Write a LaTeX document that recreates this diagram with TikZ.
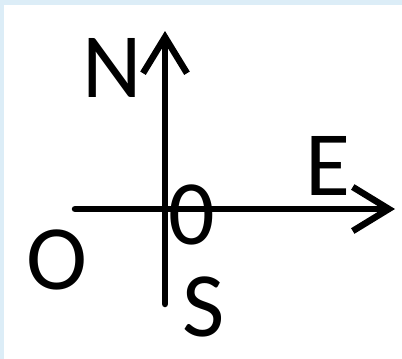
\documentclass[tikz,border=0pt]{standalone}
\usepackage{fontspec}
\setmainfont{Carlito}
\usetikzlibrary{arrows.meta}
\definecolor{frameblue}{HTML}{DCEDF7}
\begin{document}
\begin{tikzpicture}[x=1pt,y=-1pt,
  axis/.style={line width=6.5pt, line cap=round, -{Straight Barb[length=36pt,width=44pt,line cap=butt]}},
  lbl/.style={inner sep=0pt, anchor=base, font=\fontsize{92}{100}\selectfont}]
\fill[frameblue] (0,0) rectangle (402,359);
\fill[white] (4,5) rectangle (402,359);
\useasboundingbox (0,0) rectangle (402,359);
\coordinate (vbot) at (165,304);
\coordinate (vtop) at (165,31);
\coordinate (hl) at (75,209);
\coordinate (hr) at (395,209);
\draw[axis] (vbot) -- (vtop);
\draw[axis] (hl) -- (hr);
\node[lbl] (n) at (112,97) {N};
\node[lbl] (e) at (328,195) {E};
\node[lbl] (z) at (192,244) {0};
\node[lbl] (o) at (57,289) {O};
\node[lbl] (s) at (204,336) {S};
\end{tikzpicture}
\end{document}
